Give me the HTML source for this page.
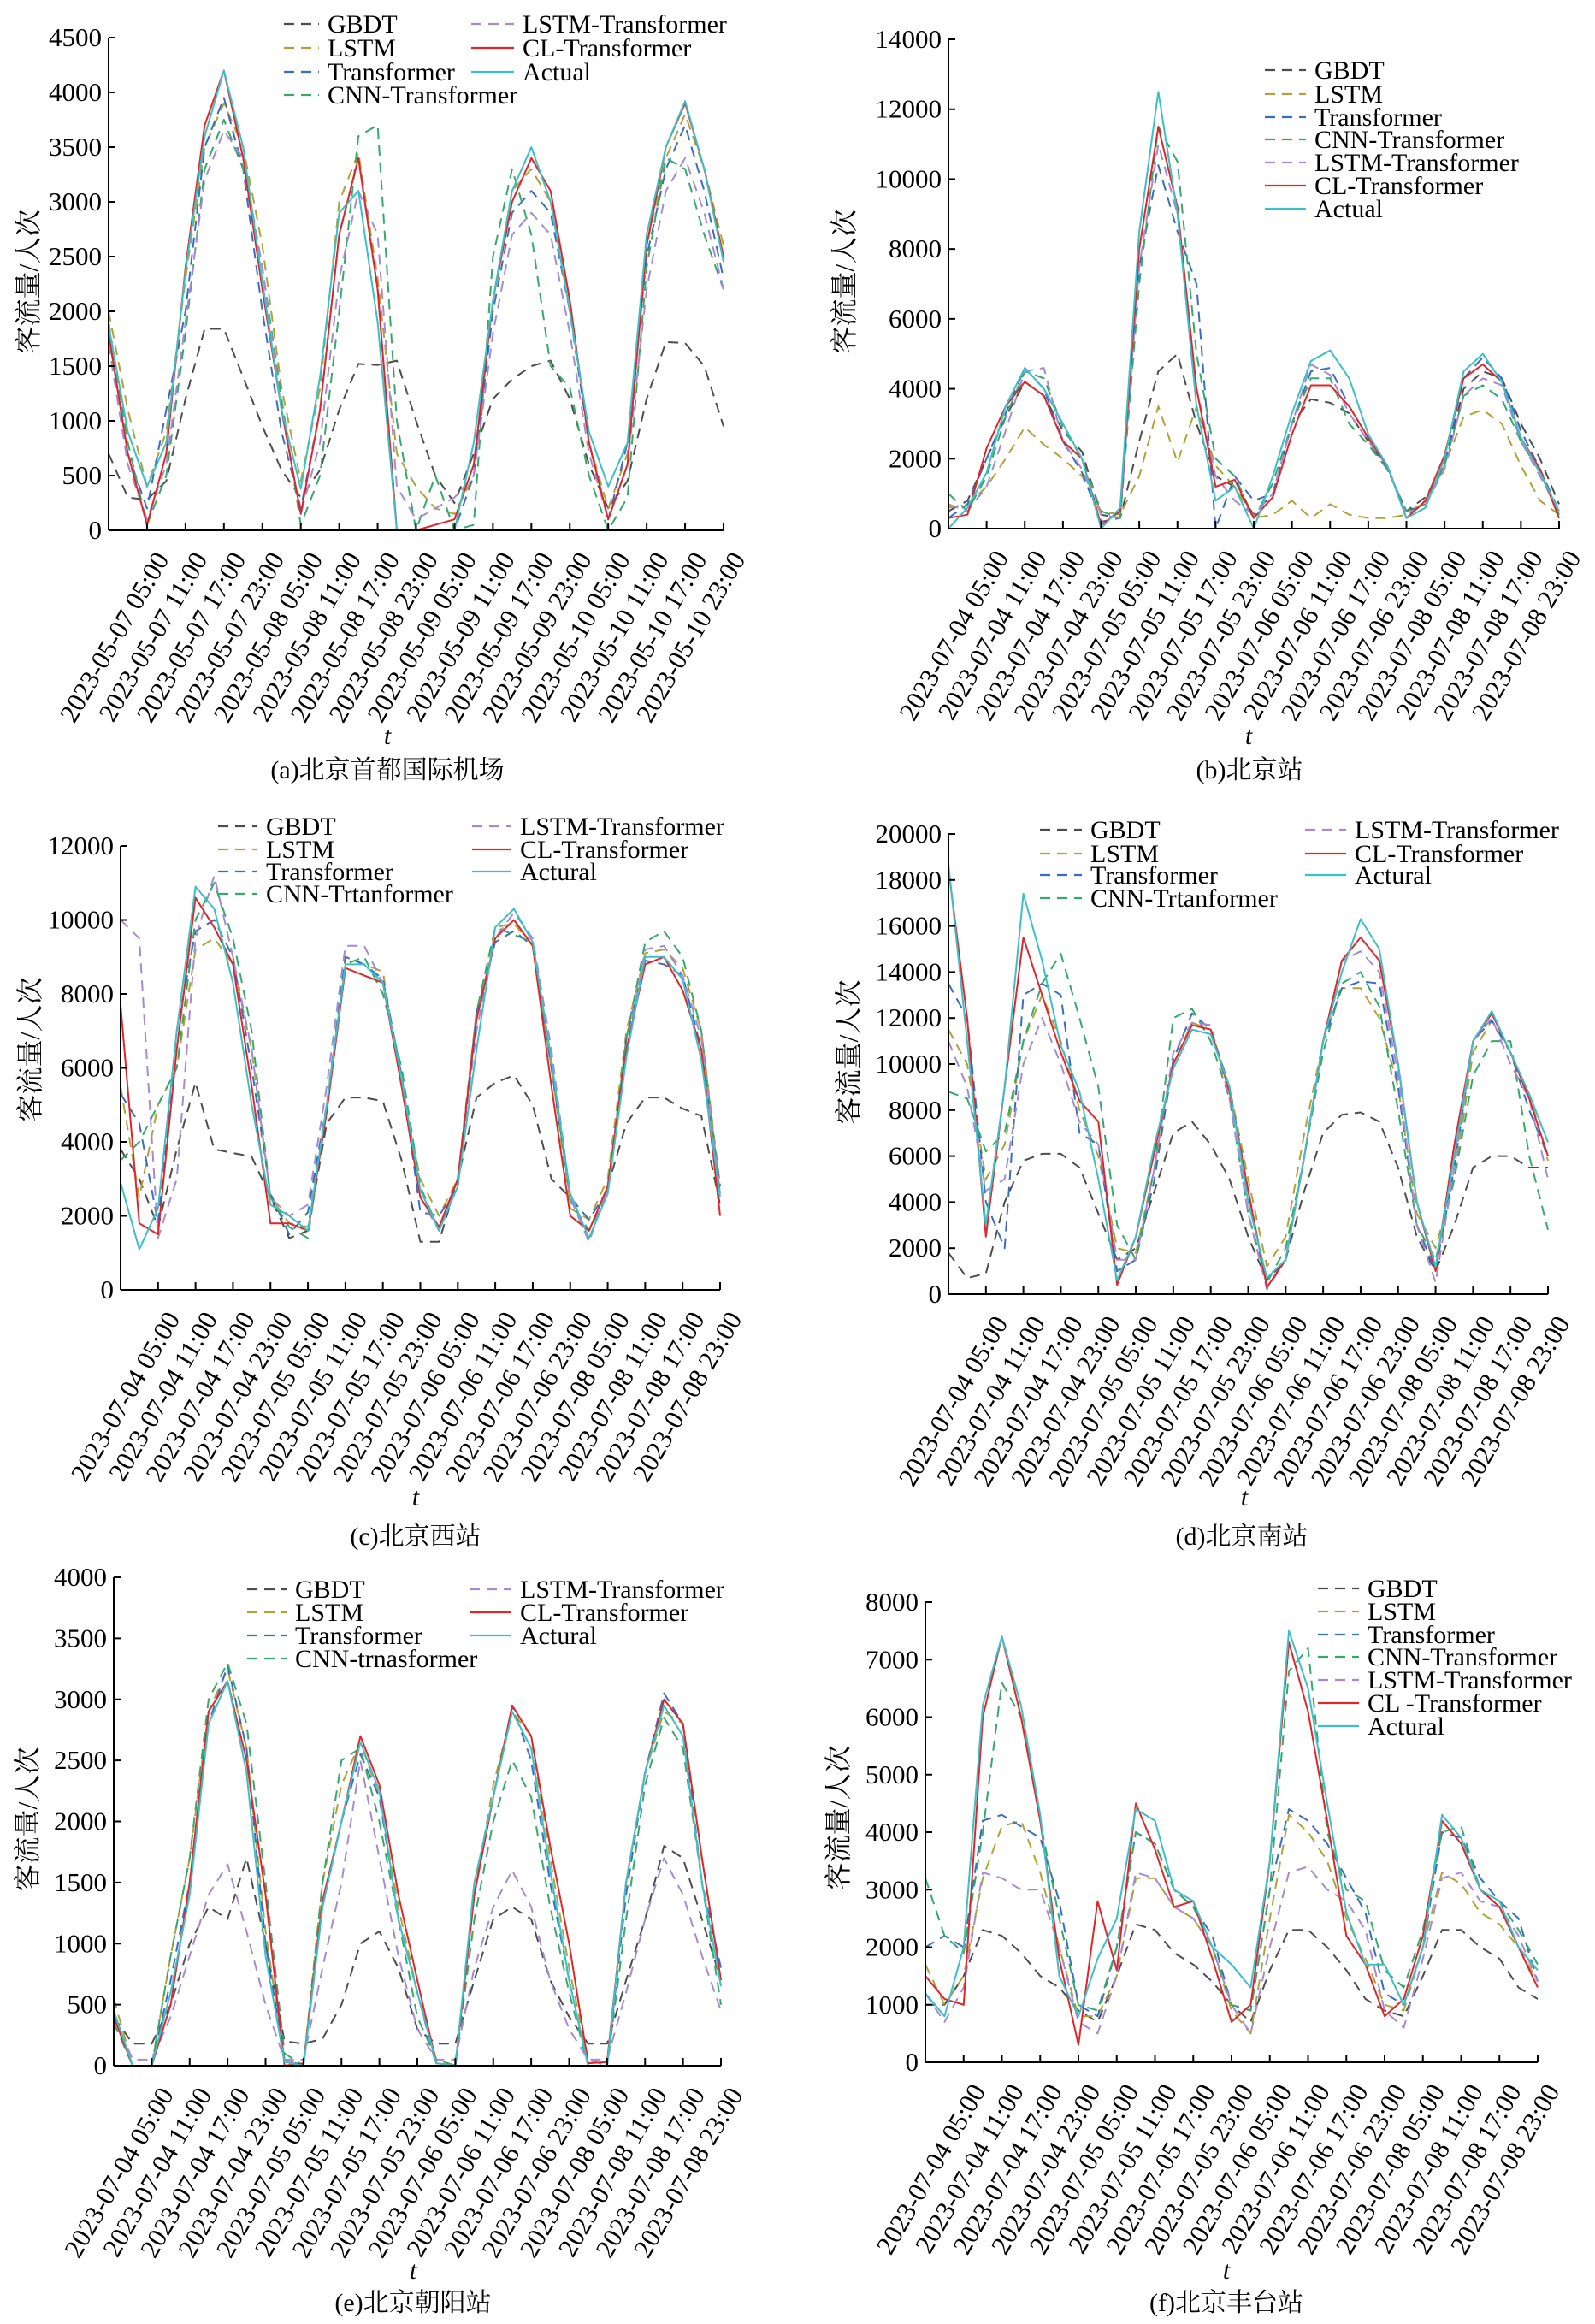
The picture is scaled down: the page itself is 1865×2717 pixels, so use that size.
<!DOCTYPE html>
<html><head><meta charset="utf-8">
<style>
html,body{margin:0;padding:0;background:#fff;}
svg{display:block;}
text{font-family:"Liberation Serif","Noto Serif CJK SC","Noto Sans CJK SC",serif;fill:#000;}
</style></head>
<body>
<svg id="chart" xmlns="http://www.w3.org/2000/svg" width="1865" height="2717" viewBox="0 0 1865 2717"></svg>
<script>
// ---- data (values every 3 hours, 33 points spanning 96 h) ----
const hoursStep = 3;
const ticksA = ["2023-05-07 05:00","2023-05-07 11:00","2023-05-07 17:00","2023-05-07 23:00","2023-05-08 05:00","2023-05-08 11:00","2023-05-08 17:00","2023-05-08 23:00","2023-05-09 05:00","2023-05-09 11:00","2023-05-09 17:00","2023-05-09 23:00","2023-05-10 05:00","2023-05-10 11:00","2023-05-10 17:00","2023-05-10 23:00"];
const ticksB = ["2023-07-04 05:00","2023-07-04 11:00","2023-07-04 17:00","2023-07-04 23:00","2023-07-05 05:00","2023-07-05 11:00","2023-07-05 17:00","2023-07-05 23:00","2023-07-06 05:00","2023-07-06 11:00","2023-07-06 17:00","2023-07-06 23:00","2023-07-08 05:00","2023-07-08 11:00","2023-07-08 17:00","2023-07-08 23:00"];

const a_gbdt=[700,300,280,450,1200,1840,1840,1400,950,550,300,550,1100,1520,1510,1550,1000,500,250,700,1200,1380,1500,1550,1200,600,200,450,1200,1720,1710,1500,950];
const a_lstm=[2000,1100,400,900,2300,3500,3900,3500,2600,1300,450,1300,3000,3450,2300,700,400,200,150,500,2100,3100,3300,3000,2100,800,200,700,2600,3400,3800,3300,2600];
const a_trans=[1800,700,200,1100,2000,3500,3950,3300,2000,900,200,1100,2700,3400,2200,0,0,0,0,500,2000,2900,3100,2900,2000,800,100,800,2500,3300,3700,3100,2300];
const a_cnn=[1900,800,50,500,1800,3300,3750,3300,2400,1200,50,500,2000,3600,3700,1000,0,500,0,50,2500,3300,2700,1500,1300,500,0,300,2400,3400,3300,2700,2200];
const a_lstmt=[1700,600,100,600,1900,3200,3650,3400,2400,1100,150,800,2300,3100,2700,400,100,200,300,500,1800,2700,2900,2700,1800,700,100,600,2200,3100,3400,2900,2200];
const a_cl=[1800,700,50,700,2400,3700,4200,3400,2200,1100,150,1100,2700,3400,2200,0,0,50,100,600,2100,3000,3400,3100,2100,800,100,600,2600,3500,3900,3300,2500];
const a_actual=[1870,900,400,800,2360,3600,4200,3500,2270,1100,380,1400,2900,3100,1900,0,0,0,0,800,2100,3100,3500,3000,2000,900,400,800,2700,3500,3920,3300,2450];

const b_gbdt=[500,800,2000,3200,4200,3800,2800,2200,400,300,2500,4500,5000,3000,1500,1200,400,1000,3000,3700,3600,3300,2500,1700,500,900,1800,4000,4500,4300,3000,2000,700];
const b_lstm=[600,700,1200,2000,2900,2400,2000,1500,500,400,1500,3500,1900,3500,1800,1200,300,400,800,300,700,400,300,300,400,800,1800,3200,3400,3000,1800,800,400];
const b_trans=[300,700,2000,3300,4600,4000,2500,1600,200,300,7500,10400,8500,7000,0,1500,800,1000,3000,4500,4600,3500,2600,1700,500,700,1900,4300,4900,4300,2800,1700,500];
const b_cnn=[1000,500,1500,3200,4500,4300,2900,2000,500,300,7000,11500,10500,5000,2000,1500,300,1300,3000,4300,4300,3000,2400,1700,500,700,1800,3800,4100,3700,2500,1600,400];
const b_lstmt=[700,500,1200,2800,4500,4600,2500,1700,400,300,7500,11000,9000,4000,1500,800,400,1000,3000,4700,4400,3300,2500,1800,400,700,1700,3800,4300,4100,2500,1500,500];
const b_cl=[300,400,2300,3500,4200,3800,2500,2000,100,500,8000,11500,9200,4000,1200,1400,300,900,2700,4100,4100,3500,2600,1800,300,800,2100,4300,4700,4200,2600,1700,300];
const b_actual=[0,600,1600,3500,4600,4000,3000,2000,0,600,8500,12500,9000,3500,800,1200,0,1500,3300,4800,5100,4300,2700,1800,300,600,2000,4500,5000,4200,2600,1600,500];

const c_gbdt=[3800,3000,1700,3800,5600,3800,3700,3600,2500,1400,1600,4500,5200,5200,5100,3500,1300,1300,3000,5200,5600,5800,5000,3000,2500,1300,2800,4500,5200,5200,4900,4700,2300];
const c_lstm=[5500,2500,5000,6000,9200,9500,8800,6500,2500,1800,1700,5000,9000,8800,8600,5500,3000,2000,3000,7500,9800,9900,9300,6000,2200,1900,3000,7000,9100,9200,8700,7000,2800];
const c_trans=[5300,4500,1800,7000,9700,10000,9000,6000,2600,1500,2100,5000,9000,8800,8400,5800,2100,2000,2800,7500,9400,9700,9300,6000,2500,1900,2700,6800,8900,8800,8500,6500,2800];
const c_cnn=[3500,4000,5000,6000,10000,11000,9500,7000,2500,1700,1400,5000,8800,9000,8000,6000,2800,1600,3000,7500,9800,9600,9400,6200,2400,1600,2600,6800,9400,9700,9000,7000,2600];
const c_lstmt=[10000,9500,1400,3000,9500,11200,9000,6500,2500,2000,2300,5500,9300,9300,8300,5500,2500,1600,3000,7000,9500,10200,9500,6500,2500,1300,2800,6500,9200,9300,8500,6800,2600];
const c_cl=[7700,1800,1500,6500,10600,9800,8800,5500,1800,1800,1600,4800,8700,8500,8300,5500,2500,1700,3000,7300,9500,10000,9300,5500,2000,1600,2800,6500,8800,9000,8100,6500,2000];
const c_actual=[2900,1100,2200,7000,10900,10300,8300,5000,2300,2000,1600,5000,8800,8800,8300,5700,2700,1600,2800,6500,9800,10300,9400,6200,2600,1400,2600,6300,9000,9000,8400,6200,2500];

const d_gbdt=[1800,700,900,4000,5800,6100,6100,5500,3500,1500,2000,4500,7000,7500,6500,5000,2500,600,1500,4500,7000,7800,7900,7500,5500,2500,1000,3000,5500,6000,6000,5500,5500];
const d_lstm=[11500,10000,5000,6500,11000,13000,11000,8000,6000,2000,1800,5500,10000,11800,11500,9000,5000,1200,2500,7000,11000,13300,13300,12000,9000,3500,2000,5000,10500,11900,10500,8700,5800];
const d_trans=[13500,12000,4000,2000,13000,13500,13000,7000,6500,1000,1500,5000,10200,12200,11500,9000,4500,300,1500,6000,11000,13300,13600,13500,9000,3000,1000,5500,11000,11900,10500,8000,6000];
const d_cnn=[8800,8500,6200,7000,11000,13500,14800,12000,9000,3000,1500,5500,12000,12400,11000,8500,3500,500,2000,6000,10500,13500,14000,12500,8000,3000,1500,5000,9500,11000,11000,6000,2800];
const d_lstmt=[11000,9000,4500,5000,10000,12000,10000,7500,6500,1500,1500,5500,10500,11800,11700,8500,3500,200,1500,6000,11000,14500,14900,14000,9500,3000,500,5500,11000,12000,10000,8500,5000];
const d_cl=[18500,12000,2500,9000,15500,13000,10500,8400,7500,400,2500,6200,10000,11700,11500,8800,4500,300,1500,6000,11000,14500,15500,14500,10000,4000,1000,6500,11000,12200,10500,8500,6000];
const d_actual=[18700,11000,3000,9000,17400,14500,10800,8800,5000,600,2500,6500,9800,11500,11300,9000,4000,700,1500,6000,11000,14000,16300,15000,10000,4000,1200,6000,11000,12300,10500,8700,6600];

const e_gbdt=[400,180,180,500,1000,1300,1200,1700,1000,200,180,220,500,1000,1100,800,300,180,180,700,1200,1300,1200,700,400,180,180,700,1200,1800,1700,1200,700];
const e_lstm=[550,0,0,900,1700,2900,3250,2600,1100,50,0,1500,2300,2650,2200,1300,600,50,0,1400,2300,2900,2700,1700,800,50,0,1500,2400,2900,2800,1700,700];
const e_trans=[400,0,0,700,1500,2800,3280,2600,1000,50,0,1300,2000,2550,2200,1200,600,0,0,1400,2200,2950,2500,1500,700,0,0,1400,2400,3050,2800,1500,800];
const e_cnn=[350,0,0,900,1700,3000,3300,2800,1500,100,0,1500,2500,2600,2000,1200,400,50,0,1200,2000,2500,2200,1300,600,0,0,1200,2300,2850,2600,1500,500];
const e_lstmt=[400,50,50,400,900,1400,1650,1100,500,50,50,800,1500,2500,1700,900,300,50,50,800,1300,1600,1300,700,300,50,50,600,1200,1700,1400,900,450];
const e_cl=[400,0,0,500,1500,2900,3150,2500,1400,0,20,1350,2000,2700,2300,1400,700,20,0,1400,2200,2950,2700,1800,1000,20,30,1500,2400,3000,2800,1700,700];
const e_actual=[450,0,0,600,1400,2800,3150,2400,900,30,0,1300,2000,2650,2250,1200,600,20,0,1500,2200,2900,2600,1600,700,0,0,1500,2400,2950,2700,1500,650];

const f_gbdt=[1000,1000,1500,2300,2200,1900,1500,1300,900,700,1500,2400,2300,1900,1700,1400,1000,700,1600,2300,2300,2000,1600,1100,900,800,1500,2300,2300,2000,1800,1300,1100];
const f_lstm=[1700,1000,1500,3200,4100,4200,3300,2000,800,800,1500,3200,3200,2700,2500,2000,900,500,2500,4300,4000,3500,2500,1800,1000,900,2000,3300,3100,2600,2400,2000,1400];
const f_trans=[2000,2200,2000,4200,4300,4100,3900,2800,1000,800,2000,4000,3800,3000,2700,2200,1000,900,3000,4400,4200,3800,3200,2600,1200,1000,2000,4000,3900,3200,2800,2500,1400];
const f_cnn=[3200,2200,1900,4000,6600,6000,4200,2500,1000,900,2000,4000,3800,3000,2700,2000,1000,900,3000,6800,7200,4000,3000,2800,1600,1300,2300,4000,4100,3000,2800,2300,1700];
const f_lstmt=[1200,700,1300,3300,3200,3000,3000,2000,700,500,1500,3300,3200,2700,2500,2000,1000,500,2000,3300,3400,3000,2800,2300,900,600,1800,3200,3300,2800,2700,2200,1400];
const f_cl=[1500,1100,1000,6000,7400,6000,4200,1800,300,2800,1600,4500,3700,2700,2800,1800,700,1000,3500,7300,6100,4200,2200,1700,800,1100,2200,4200,3800,3000,2700,2000,1300];
const f_actual=[1200,800,2000,6200,7400,6200,4300,1500,800,1800,2500,4400,4200,3000,2800,2000,1700,1300,3500,7500,6500,4500,2600,1700,1700,1000,2000,4300,3900,3000,2800,2000,1600];

// ---- rendering ----
const NS="http://www.w3.org/2000/svg";
const svg=document.getElementById('chart');
const COLORS={gbdt:"#4d4d4d",lstm:"#b0a23a",trans:"#3a6dbf",cnn:"#35a86a",lstmt:"#a48bd0",cl:"#e0262a",actual:"#3cbfc6"};
function mk(tag,attrs,parent){const e=document.createElementNS(NS,tag);for(const k in attrs)e.setAttribute(k,attrs[k]);(parent||svg).appendChild(e);return e;}

const panels=[
 {id:"a",x0:127,x1:846,y0:620,y1:44,max:4500,step:500,ticks:ticksA,
  series:[a_gbdt,a_lstm,a_trans,a_cnn,a_lstmt,a_cl,a_actual],
  names:["GBDT","LSTM","Transformer","CNN-Transformer","LSTM-Transformer","CL-Transformer","Actual"],
  legend:{type:2,c1l:332,c1t:383,c2l:551,c2t:611,rows:[28,56,84,111]},
  ytx:34,yty:329,tx:453,ty:860,cx:453,cy:910,caption:"(a)北京首都国际机场"},
 {id:"b",x0:1109,x1:1823,y0:618,y1:46,max:14000,step:2000,ticks:ticksB,
  series:[b_gbdt,b_lstm,b_trans,b_cnn,b_lstmt,b_cl,b_actual],
  names:["GBDT","LSTM","Transformer","CNN-Transformer","LSTM-Transformer","CL-Transformer","Actual"],
  legend:{type:1,l:1479,t:1537,rows:[82,110,137,163,190,217,244]},
  ytx:988,yty:329,tx:1460,ty:860,cx:1461,cy:910,caption:"(b)北京站"},
 {id:"c",x0:141,x1:842,y0:1508,y1:989,max:12000,step:2000,ticks:ticksB,
  series:[c_gbdt,c_lstm,c_trans,c_cnn,c_lstmt,c_cl,c_actual],
  names:["GBDT","LSTM","Transformer","CNN-Trtanformer","LSTM-Transformer","CL-Transformer","Actural"],
  legend:{type:2,c1l:255,c1t:311,c2l:552,c2t:608,rows:[966,993,1019,1045]},
  ytx:36,yty:1227,tx:486,ty:1750,cx:486,cy:1806,caption:"(c)北京西站"},
 {id:"d",x0:1109,x1:1810,y0:1513,y1:975,max:20000,step:2000,ticks:ticksB,
  series:[d_gbdt,d_lstm,d_trans,d_cnn,d_lstmt,d_cl,d_actual],
  names:["GBDT","LSTM","Transformer","CNN-Trtanformer","LSTM-Transformer","CL-Transformer","Actural"],
  legend:{type:2,c1l:1216,c1t:1275,c2l:1526,c2t:1584,rows:[970,998,1023,1050]},
  ytx:993,yty:1230,tx:1455,ty:1750,cx:1452,cy:1806,caption:"(d)北京南站"},
 {id:"e",x0:133,x1:843,y0:2415,y1:1844,max:4000,step:500,ticks:ticksB,
  series:[e_gbdt,e_lstm,e_trans,e_cnn,e_lstmt,e_cl,e_actual],
  names:["GBDT","LSTM","Transformer","CNN-trnasformer","LSTM-Transformer","CL-Transformer","Actural"],
  legend:{type:2,c1l:289,c1t:345,c2l:549,c2t:608,rows:[1858,1885,1912,1939]},
  ytx:33,yty:2127,tx:483,ty:2654,cx:483,cy:2702,caption:"(e)北京朝阳站"},
 {id:"f",x0:1082,x1:1798,y0:2411,y1:1873,max:8000,step:1000,ticks:ticksB,
  series:[f_gbdt,f_lstm,f_trans,f_cnn,f_lstmt,f_cl,f_actual],
  names:["GBDT","LSTM","Transformer","CNN-Transformer","LSTM-Transformer","CL -Transformer","Actural"],
  legend:{type:1,l:1541,t:1599,rows:[1857,1884,1911,1937,1964,1991,2018]},
  ytx:981,yty:2125,tx:1434,ty:2654,cx:1434,cy:2702,caption:"(f)北京丰台站"}
];
const keys=["gbdt","lstm","trans","cnn","lstmt","cl","actual"];
const slugs=["gbdt","lstm","transformer","cnn-transformer","lstm-transformer","cl-transformer","actual"];

panels.forEach(p=>{
  const g=mk('g',{});
  
  
  const totalH=96;
  const xs=h=>p.x0+(h/totalH)*(p.x1-p.x0);
  const ys=v=>p.y0-(v/p.max)*(p.y0-p.y1);
  p.series.forEach((arr,si)=>{
    const d=arr.map((v,i)=>(i?'L':'M')+xs(i*hoursStep).toFixed(1)+','+ys(v).toFixed(1)).join(' ');
    const path=mk('path',{d:d,fill:'none',stroke:COLORS[keys[si]],'stroke-width':2,'stroke-linejoin':'round'},g);
    if(si<5) path.setAttribute('stroke-dasharray','12 8');
    
    
  });
  const ax=mk('g',{},g);
  
  
  mk('line',{x1:p.x0,y1:p.y0,x2:p.x1,y2:p.y0,stroke:'#000','stroke-width':2},ax);
  mk('line',{x1:p.x0,y1:p.y0,x2:p.x0,y2:p.y1,stroke:'#000','stroke-width':2},ax);
  for(let v=0;v<=p.max;v+=p.step){
    const y=ys(v);
    mk('line',{x1:p.x0,y1:y,x2:p.x0+8,y2:y,stroke:'#000','stroke-width':2},ax);
    const t=mk('text',{x:p.x0-8,y:y+10,'text-anchor':'end','font-size':31},ax);
    t.textContent=v;
    
    
  }
  for(let k=1;k<=16;k++){
    const x=xs(k*6);
    mk('line',{x1:x,y1:p.y0,x2:x,y2:p.y0-9,stroke:'#000','stroke-width':2},ax);
    const t=mk('text',{transform:`translate(${x+17},${p.y0+28}) rotate(-60)`,'text-anchor':'end',dy:'0.35em','font-size':31},ax);
    t.textContent=p.ticks[k-1];
    
    
  }
  const yt=mk('text',{transform:`translate(${p.ytx+10},${p.yty}) rotate(-90)`,'text-anchor':'middle','font-size':32},g);
  yt.textContent='客流量/人次';
  
  
  const xt=mk('text',{x:p.tx,y:p.ty+10,'text-anchor':'middle','font-size':30,'font-style':'italic'},g);
  xt.textContent='t';
  
  
  const cap=mk('text',{x:p.cx,y:p.cy,'text-anchor':'middle','font-size':30},g);
  cap.textContent=p.caption;
  
  
  const lg=mk('g',{},g);
  
  
  p.names.forEach((nm,si)=>{
    let lx,tx,ry;
    if(p.legend.type===1){lx=p.legend.l;tx=p.legend.t;ry=p.legend.rows[si];}
    else if(si<4){lx=p.legend.c1l;tx=p.legend.c1t;ry=p.legend.rows[si];}
    else {lx=p.legend.c2l;tx=p.legend.c2t;ry=p.legend.rows[si-4];}
    const e=mk('g',{},lg);
    
    
    const ln=mk('line',{x1:lx,y1:ry,x2:tx-10,y2:ry,stroke:COLORS[keys[si]],'stroke-width':2.2},e);
    if(si<5) ln.setAttribute('stroke-dasharray','12 8');
    const t=mk('text',{x:tx,y:ry+10,'font-size':30},e);
    t.textContent=nm;
  });
});
</script>
</body></html>
